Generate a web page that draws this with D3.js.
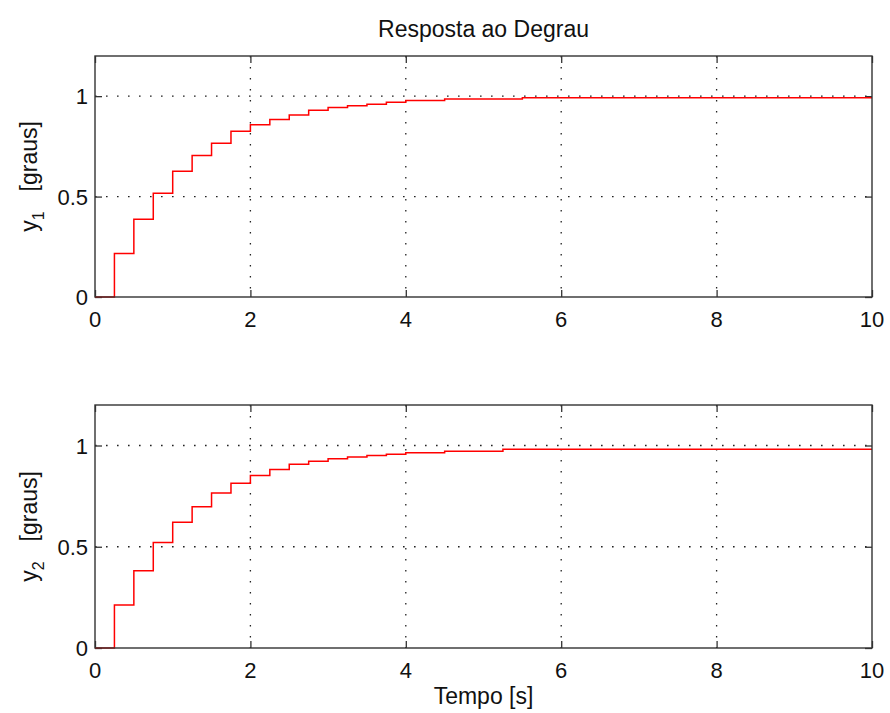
<!DOCTYPE html>
<html>
<head>
<meta charset="utf-8">
<script src="https://cdn.jsdelivr.net/npm/d3@7"></script>
<style>
  body { margin: 0; background: #fff; }
  text { font-family: "Liberation Sans", Arial, sans-serif; fill: #111; }
  .grid line { stroke: #222; stroke-width: 1.3; stroke-dasharray: 1.6,9.4; }
  .frame { fill: none; stroke: #333; stroke-width: 1.4; }
  .step { fill: none; stroke: #ff0000; stroke-width: 1.5; }
  .axis path { display: none; }
  .axis line { stroke: #333; stroke-width: 1.3; }
</style>
</head>
<body>
<div id="chart"></div>
<script>
// step response samples (value holds until next time)
const timesTop = [0, 0.25, 0.5, 0.75, 1.0, 1.25, 1.5, 1.75, 2.0, 2.25, 2.5, 2.75, 3.0, 3.25, 3.5, 3.75, 4.0, 4.5, 5.5];
const y1Values = [0, 0.217, 0.387, 0.517, 0.626, 0.704, 0.765, 0.825, 0.858, 0.884, 0.906, 0.930, 0.943, 0.952, 0.960, 0.970, 0.978, 0.986, 0.992];

const timesBottom = [0, 0.25, 0.5, 0.75, 1.0, 1.25, 1.5, 1.75, 2.0, 2.25, 2.5, 2.75, 3.0, 3.25, 3.5, 3.75, 4.0, 4.5, 5.25];
const y2Values = [0, 0.212, 0.381, 0.521, 0.621, 0.698, 0.765, 0.813, 0.852, 0.882, 0.908, 0.922, 0.934, 0.943, 0.951, 0.957, 0.964, 0.972, 0.981];

const tEnd = 10;
const xTicks = [0, 2, 4, 6, 8, 10];
const yTicks = [0, 0.5, 1];
const yTickLabels = ['0', '0.5', '1'];
const gridX = [2, 4, 6, 8];
const gridY = [0.5, 1];

const title = 'Resposta ao Degrau';
const xLabel = 'Tempo [s]';

const W = 890, H = 713;
const left = 95, right = 872;

const svg = d3.select('#chart').append('svg')
  .attr('width', W)
  .attr('height', H);

const x = d3.scaleLinear().domain([0, tEnd]).range([left, right]);

svg.append('text')
  .attr('x', (left + right) / 2)
  .attr('y', 37)
  .attr('text-anchor', 'middle')
  .style('font-size', '23px')
  .text(title);

function drawPanel(times, values, sub, top, bottom) {
  const y = d3.scaleLinear().domain([0, 1.2]).range([bottom, top]);
  const g = svg.append('g');

  // dotted grid
  const grid = g.append('g').attr('class', 'grid');
  grid.selectAll('.gx').data(gridX).join('line')
    .attr('x1', d => x(d)).attr('x2', d => x(d))
    .attr('y1', top).attr('y2', bottom);
  grid.selectAll('.gy').data(gridY).join('line')
    .attr('class', 'gy')
    .attr('x1', left).attr('x2', right)
    .attr('y1', d => y(d)).attr('y2', d => y(d));

  // inward ticks on all four sides
  g.append('g').attr('class', 'axis')
    .attr('transform', `translate(0,${bottom})`)
    .call(d3.axisBottom(x).tickValues(xTicks).tickSize(-7).tickFormat(''));
  g.append('g').attr('class', 'axis')
    .attr('transform', `translate(0,${top})`)
    .call(d3.axisTop(x).tickValues(xTicks).tickSize(-7).tickFormat(''));
  g.append('g').attr('class', 'axis')
    .attr('transform', `translate(${left},0)`)
    .call(d3.axisLeft(y).tickValues(yTicks).tickSize(-7).tickFormat(''));
  g.append('g').attr('class', 'axis')
    .attr('transform', `translate(${right},0)`)
    .call(d3.axisRight(y).tickValues(yTicks).tickSize(-7).tickFormat(''));

  // tick labels
  g.selectAll('.xl').data(xTicks).join('text')
    .attr('x', d => x(d))
    .attr('y', bottom + 30)
    .attr('text-anchor', 'middle')
    .style('font-size', '22px')
    .text(d => d);
  g.selectAll('.yl').data(yTicks).join('text')
    .attr('x', left - 7)
    .attr('y', d => y(d) + 8)
    .attr('text-anchor', 'end')
    .style('font-size', '22px')
    .text((d, i) => yTickLabels[i]);

  // step line
  const pts = times.map((t, i) => [t, values[i]]);
  pts.push([tEnd, values[values.length - 1]]);
  const line = d3.line()
    .x(d => x(d[0]))
    .y(d => y(d[1]))
    .curve(d3.curveStepAfter);
  g.append('path')
    .attr('class', 'step')
    .attr('d', line(pts));

  g.append('rect')
    .attr('class', 'frame')
    .attr('x', left).attr('y', top)
    .attr('width', right - left).attr('height', bottom - top);

  // y label
  const cy = (top + bottom) / 2;
  const lab = g.append('text')
    .attr('transform', `translate(37,${cy}) rotate(-90)`)
    .attr('text-anchor', 'middle')
    .style('font-size', '23px');
  lab.append('tspan').text('y');
  lab.append('tspan').attr('dy', 7).style('font-size', '16px').text(sub);
  lab.append('tspan').attr('dy', -7).attr('dx', 20).text('[graus]');
}

drawPanel(timesTop, y1Values, '1', 56, 297);
drawPanel(timesBottom, y2Values, '2', 405, 648);

svg.append('text')
  .attr('x', (left + right) / 2)
  .attr('y', 704)
  .attr('text-anchor', 'middle')
  .style('font-size', '23px')
  .text(xLabel);
</script>
</body>
</html>
